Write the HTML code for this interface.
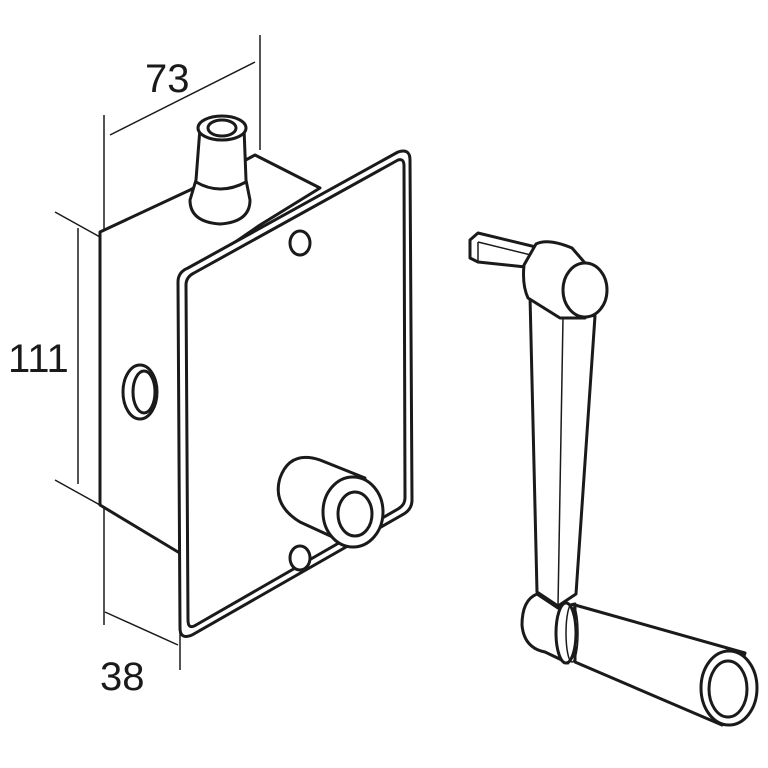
<!DOCTYPE html>
<html><head><meta charset="utf-8"><style>html,body{margin:0;padding:0;background:#fff}svg{display:block}</style></head>
<body>
<svg width="768" height="768" viewBox="0 0 768 768" xmlns="http://www.w3.org/2000/svg">
<g fill="none" stroke="#1a1a1a" stroke-width="1.5">
<line x1="104" y1="115" x2="104" y2="232"/>
<line x1="260" y1="35" x2="260" y2="150"/>
<line x1="110" y1="135" x2="255" y2="62"/>
<line x1="55" y1="212" x2="100" y2="237"/>
<line x1="55" y1="480" x2="100" y2="505"/>
<line x1="78" y1="228" x2="78" y2="484"/>
<line x1="104" y1="508" x2="104" y2="625"/>
<line x1="180" y1="560" x2="180" y2="670"/>
<line x1="105" y1="612" x2="178" y2="645"/>
</g>
<g font-family="Liberation Sans, sans-serif" font-size="40" fill="#1a1a1a">
<text x="145" y="92">73</text>
<text x="8" y="372">111</text>
<text x="100" y="690">38</text>
</g>
<g fill="#fff" stroke="#1a1a1a" stroke-width="3" stroke-linejoin="round">
<path d="M100 232 L190 190 L255 155 L320 188 L260 225 L183 278 L183 555 L100 505 Z"/>
<path d="M190 200 Q190 222 220 224 Q250 222 250 200 L246 180 L244 128 L200 128 L196 180 Z"/>
<ellipse cx="222" cy="128" rx="24" ry="12"/>
<ellipse cx="222" cy="128" rx="14" ry="8"/>
<path d="M196 182 Q220 196 246 182" fill="none"/>
<ellipse cx="140" cy="392" rx="17" ry="27"/>
<ellipse cx="144" cy="392" rx="11" ry="21"/>
<path d="M178 282 Q178 272 188 268 L398 152 Q410 148 410 160 L412 500 Q412 510 402 515 L192 635 Q180 640 180 628 Z"/>
<path d="M186 285 Q186 277 194 273 L398 160 Q404 158 404 166 L405 498 Q405 505 398 509 L196 625 Q188 630 188 620 Z"/>
<ellipse cx="300" cy="243" rx="10" ry="12"/>
<ellipse cx="300" cy="558" rx="10" ry="12"/>
<path d="M280 478 Q290 450 320 460 L365 478 L350 545 L300 522 Q272 505 280 478 Z"/>
<ellipse cx="353" cy="512" rx="30" ry="35"/>
<ellipse cx="355" cy="514" rx="17" ry="22"/>

<!-- crank -->
<path d="M470 240 L478 233 L540 248 L535 268 L478 262 L470 258 Z"/>
<line x1="478" y1="242" x2="478" y2="262" stroke-width="1.5"/>
<line x1="478" y1="242" x2="535" y2="256" stroke-width="1.5"/>
<path d="M530 296 L563 310 L595 316 L576 594 L558 606 L537 592 Z"/>
<line x1="563" y1="318" x2="558" y2="606" stroke-width="1.5"/>
<path d="M536 244 Q548 238 572 248 L585 263 L585 318 Q570 318 560 318 L528 298 Q522 285 524 265 Z"/>
<ellipse cx="585" cy="290" rx="22" ry="27"/>
<path d="M575 605 L745 653 L722 725 L575 662 Z"/>
<ellipse cx="729" cy="688" rx="28" ry="37"/>
<ellipse cx="728" cy="689" rx="19" ry="28"/>
<path d="M537 594 L558 608 L575 604 L568 663 L545 652 Q524 648 522 625 Q522 600 537 594 Z"/>
<ellipse cx="566" cy="633" rx="10" ry="30"/>
<ellipse cx="572" cy="633" rx="6" ry="29" fill="none" stroke-width="1.5"/>
</g>
</svg>
</body></html>
